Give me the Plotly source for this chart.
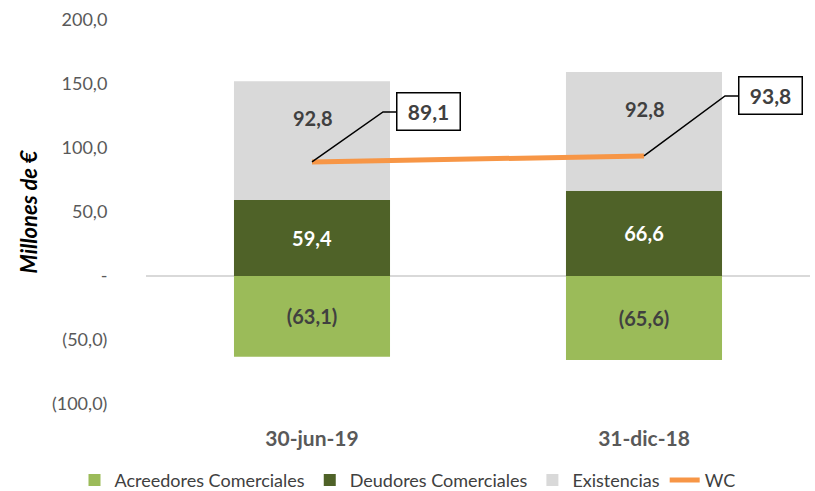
import plotly.graph_objects as go

categories = ["30-jun-19", "31-dic-18"]
acreedores = [-63.1, -65.6]
deudores = [59.4, 66.6]
existencias = [92.8, 92.8]
wc = [89.1, 93.8]
y_ticks = [-100, -50, 0, 50, 100, 150, 200]


def fmt(v):
    if v == 0:
        return "-"
    s = f"{abs(v):.1f}".replace(".", ",")
    return f"({s})" if v < 0 else s


FONT = "Lato"
fig = go.Figure()
for name, vals, col, tcol, show in [
    ("Acreedores Comerciales", acreedores, "#9BBB59", "#404040", True),
    ("Deudores Comerciales", deudores, "#4F6228", "#FFFFFF", True),
    ("Existencias", existencias, "#D9D9D9", "#404040", False),
]:
    fig.add_trace(go.Bar(
        x=categories, y=vals, name=name, marker=dict(color=col, line=dict(width=0)),
        text=[f"<b>{fmt(v)}</b>" for v in vals] if show else None,
        textposition="inside" if show else "none",
        insidetextanchor="middle", textfont=dict(family=FONT, size=20, color=tcol),
        textangle=0,
    ))

# Existencias labels placed in the upper part of their segment
for i, (d, e) in enumerate(zip(deudores, existencias)):
    fig.add_annotation(
        x=i, y=d + e, xref="x", yref="y", text=f"<b>{fmt(e)}</b>",
        showarrow=False, yshift=-37,
        font=dict(family=FONT, size=20, color="#404040"),
    )

fig.add_trace(go.Scatter(
    x=categories, y=wc, name="WC", mode="lines",
    line=dict(color="#F79646", width=5),
))

offsets = [(116, -50, 71), (126, -60, 81)]
for i, (c, v) in enumerate(zip(categories, wc)):
    bx, by, ex = offsets[i]
    fig.add_annotation(
        x=i, y=v, xref="x", yref="y", text=f"<b>{fmt(v)}</b>",
        showarrow=True, arrowcolor="rgba(0,0,0,0)", ax=bx, ay=by,
        font=dict(family=FONT, size=21, color="#404040"),
        bgcolor="white", bordercolor="black", borderwidth=1.5, borderpad=3,
        width=56, height=30,
    )
    fig.add_shape(
        type="path", xref="x", yref="y", xsizemode="pixel", ysizemode="pixel",
        xanchor=i, yanchor=v,
        path=f"M0,0 L{ex},{-by} L{bx - 31},{-by}",
        line=dict(color="black", width=1.5),
    )

fig.update_layout(
    barmode="relative", bargap=0.53,
    width=815, height=491,
    margin=dict(l=146, r=5, t=20, b=87, autoexpand=False),
    paper_bgcolor="white", plot_bgcolor="white",
    showlegend=True,
    legend=dict(orientation="h", xref="container", xanchor="center", x=0.5,
                yref="container", yanchor="middle", y=0.022,
                font=dict(family=FONT, size=18, color="#404040"),
                traceorder="normal", itemwidth=30),
    font=dict(family=FONT),
)
fig.update_xaxes(
    type="category", showgrid=False, showline=False,
    ticks="outside", ticklen=16, tickcolor="rgba(0,0,0,0)",
    tickfont=dict(family=FONT, size=21, color="#595959"),
    tickprefix="<b>", ticksuffix="</b>",
)
fig.update_yaxes(
    range=[-100, 200], tickvals=y_ticks, ticktext=[fmt(v) for v in y_ticks],
    showgrid=False, zeroline=True, zerolinecolor="#D9D9D9", zerolinewidth=1.5,
    tickfont=dict(family=FONT, size=18, color="#595959"),
    ticks="outside", ticklen=34, tickcolor="rgba(0,0,0,0)",
    title=dict(text="<b><i>Millones de €</i></b>", standoff=8,
               font=dict(family=FONT, size=22, color="black")),
)

fig.write_html("out.html")
